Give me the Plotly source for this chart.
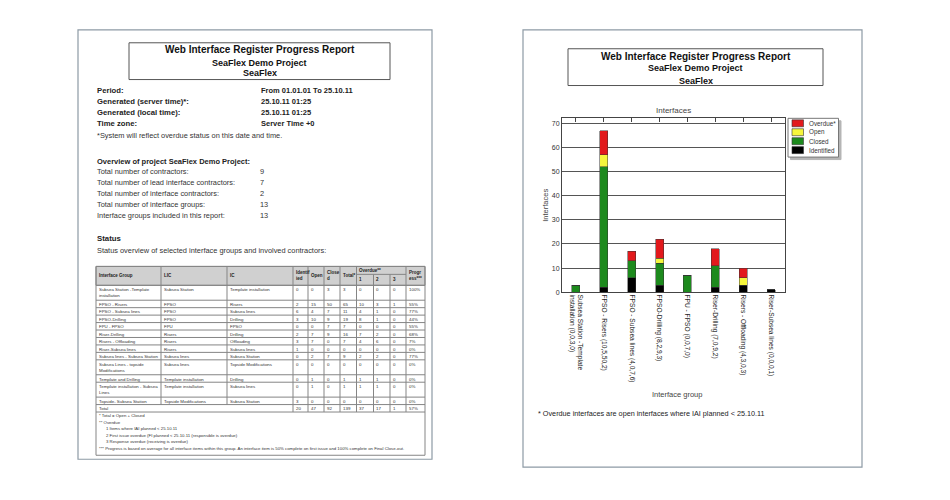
import plotly.graph_objects as go

# The page body adds an 8px margin, so the figure is drawn 8px smaller and
# all reference pixel positions are shifted by that offset.
W, H = 950, 500
OFF = 8
FW, FH = W - OFF, H - OFF
FONT = "Liberation Sans, Arial, sans-serif"


def px(x):
    return (x - OFF) / FW


def py(y):
    return 1 - (y - OFF) / FH


# ---------------- chart data (right page) ----------------
categories = [
    "Subsea Station -Template<br>installation (0,0,3,0)",
    "FPSO - Risers (10,5,50,2)",
    "FPSO - Subsea lines (4,0,7,6)",
    "FPSO-Drilling (8,2,9,3)",
    "FPU - FPSO (0,0,7,0)",
    "Riser-Drilling (7,0,9,2)",
    "Risers - Offloading (4,3,0,3)",
    "Riser-Subsea lines (0,0,0,1)",
]
identified = [0, 2, 6, 3, 0, 2, 3, 1]
closed = [3, 50, 7, 9, 7, 9, 0, 0]
open_ = [0, 5, 0, 2, 0, 0, 3, 0]
overdue = [0, 10, 4, 8, 0, 7, 4, 0]
series_names = ["Identified", "Closed", "Open", "Overdue*"]
series_colors = ["#000000", "#1d8a1d", "#f6f63c", "#e2191c"]
y_ticks = [0, 10, 20, 30, 40, 50, 60, 70]

# ---------------- table data (left page) ----------------
tbl_header = ["Interface Group", "LIC", "IC", "Identif<br>ied", "Open", "Close<br>d",
              "Total*", "1", "2", "3", "Progr<br>ess***"]
tbl_group = ["Subsea Station -Template<br>installation", "FPSO - Risers", "FPSO - Subsea lines",
             "FPSO-Drilling", "FPU - FPSO", "Riser-Drilling", "Risers - Offloading",
             "Riser-Subsea lines", "Subsea lines - Subsea Station",
             "Subsea Lines - topside<br>Modifications", "Template and Drilling",
             "Template installation - Subsea<br>Lines", "Topside- Subsea Station"]
tbl_lic = ["Subsea Station", "FPSO", "FPSO", "FPSO", "FPU", "Risers", "Risers", "Risers",
           "Subsea lines", "Subsea lines", "Template installation", "Template installation",
           "Topside Modifications"]
tbl_ic = ["Template installation", "Risers", "Subsea lines", "Drilling", "FPSO", "Drilling",
          "Offloading", "Subsea lines", "Subsea Station", "Topside Modifications", "Drilling",
          "Subsea lines", "Subsea Station"]
tbl_identified = [0, 2, 6, 3, 0, 2, 3, 1, 0, 0, 0, 0, 3]
tbl_open = [0, 15, 4, 10, 0, 7, 7, 0, 2, 0, 1, 1, 0]
tbl_closed = [3, 50, 7, 9, 7, 9, 0, 0, 7, 0, 0, 0, 0]
tbl_total = [3, 65, 11, 19, 7, 16, 7, 0, 9, 0, 1, 1, 0]
tbl_od1 = [0, 10, 4, 8, 0, 7, 4, 0, 2, 0, 1, 1, 0]
tbl_od2 = [0, 3, 1, 1, 0, 2, 6, 0, 2, 0, 1, 1, 0]
tbl_od3 = [0, 1, 0, 0, 0, 0, 0, 0, 0, 0, 0, 0, 0]
tbl_progress = ["100%", "55%", "77%", "44%", "55%", "68%", "7%", "0%", "77%", "0%", "0%", "0%", "0%"]
tbl_totals = ["20", "47", "92", "139", "37", "17", "1", "57%"]

fig = go.Figure()

# ---------------- stacked bars ----------------
for name, vals, col in zip(series_names, [identified, closed, open_, overdue], series_colors):
    fig.add_trace(go.Bar(
        x=categories, y=vals, name=name, width=0.29,
        marker=dict(color=col, line=dict(color="#333333", width=0.5)),
        showlegend=False,
    ))
# helper trace so the top tick axis is drawn
fig.add_trace(go.Scatter(x=[0, 7], y=[None, None], xaxis="x2", yaxis="y", mode="markers",
                         showlegend=False, hoverinfo="skip"))

shapes = []
annots = []


def txt(s, x, y, size, bold=False, xanchor="left", yanchor="middle", color="#222222", angle=0):
    if bold:
        s = "<b>" + s + "</b>"
    annots.append(dict(text=s, x=px(x), y=py(y), xref="paper", yref="paper", showarrow=False,
                       xanchor=xanchor, yanchor=yanchor, textangle=angle, borderpad=0,
                       align="left" if xanchor == "left" else "center",
                       font=dict(size=size, color=color, family=FONT)))


def rect(x0, y0, x1, y1, line="#555555", width=1, fill=None, layer="above"):
    d = dict(type="rect", xref="paper", yref="paper", x0=px(x0), x1=px(x1), y0=py(y1), y1=py(y0),
             line=dict(color=line, width=width), layer=layer)
    if fill:
        d["fillcolor"] = fill
    shapes.append(d)


def hline(x0, x1, y, color="#858585", width=1):
    shapes.append(dict(type="line", xref="paper", yref="paper", x0=px(x0), x1=px(x1),
                       y0=py(y), y1=py(y), line=dict(color=color, width=width)))


def vline(x, y0, y1, color="#858585", width=1):
    shapes.append(dict(type="line", xref="paper", yref="paper", x0=px(x), x1=px(x),
                       y0=py(y0), y1=py(y1), line=dict(color=color, width=width)))


# ---------------- page frames ----------------
rect(78, 30, 432, 462, line="#8d9aa5", width=1.2)
rect(523, 30, 862, 470, line="#8d9aa5", width=1.2)

# ---------------- header boxes ----------------
for (x0, x1, y0, y1, ys) in [(129, 390, 43, 80, (50, 63, 73)), (568, 823, 49, 86, (57, 68, 81))]:
    rect(x0, y0, x1, y1, line="#555555", width=1)
    cx = (x0 + x1) / 2
    txt("Web Interface Register Progress Report", cx, ys[0], 10, bold=True, xanchor="center", color="#111")
    txt("SeaFlex Demo Project", cx, ys[1], 9, bold=True, xanchor="center", color="#111")
    txt("SeaFlex", cx, ys[2], 9, bold=True, xanchor="center", color="#111")

# ---------------- left page text ----------------
info_rows = [("Period:", "From 01.01.01 To 25.10.11", 91),
             ("Generated (server time)*:", "25.10.11 01:25", 102),
             ("Generated (local time):", "25.10.11 01:25", 113),
             ("Time zone:", "Server Time +0", 124)]
for lab, val, y in info_rows:
    txt(lab, 96, y, 7.7, bold=True, color="#222")
    txt(val, 260, y, 7.5, bold=True, color="#222")
txt("*System will reflect overdue status on this date and time.", 96, 136, 7.4, color="#333")
txt("Overview of project SeaFlex Demo Project:", 96, 162, 7.5, bold=True, color="#222")
overview = [("Total number of contractors:", "9", 173),
            ("Total number of lead interface contractors:", "7", 184),
            ("Total number of interface contractors:", "2", 195),
            ("Total number of interface groups:", "13", 206),
            ("Interface groups included in this report:", "13", 217)]
for lab, val, y in overview:
    txt(lab, 96, y, 7.4, color="#333")
    txt(val, 259, y, 7.4, color="#333")
txt("Status", 96, 240, 7.8, bold=True, color="#222")
txt("Status overview of selected interface groups and involved contractors:", 96, 252, 7.4, color="#333")

# ---------------- table ----------------
col_edges = [96, 161, 227, 293, 308, 324, 340, 356.5, 373.5, 390, 406, 425]
t_top, head_h, single_h, double_h = 268, 19, 7.5, 15
rect(col_edges[0], t_top, col_edges[-1], t_top + head_h, line="#858585", fill="#d0d0d0", layer="below")
row_tops = []
y = t_top + head_h
for g in tbl_group:
    row_tops.append(y)
    y += double_h if "<br>" in g else single_h
total_top = y
total_bot = y + single_h
foot_bot = 458
# lines
rect(col_edges[0], t_top, col_edges[-1], foot_bot, line="#858585")
hline(col_edges[0], col_edges[-1], t_top + head_h)
for yt in row_tops[1:] + [total_top, total_bot]:
    hline(col_edges[0], col_edges[-1], yt)
hline(col_edges[7], col_edges[10], t_top + 8)
for i, xe in enumerate(col_edges[1:-1], start=1):
    if i in (1, 2):
        vline(xe, t_top, total_top)
    elif i in (8, 9):
        vline(xe, t_top + 8, total_bot)
    else:
        vline(xe, t_top, total_bot)
# header text
hs = 4.5
for i, h in enumerate(tbl_header):
    if i in (7, 8, 9):
        txt(h, col_edges[i] + 1.5, t_top + 13.5, hs, bold=True, color="#222")
    else:
        txt(h, col_edges[i] + 1.5, t_top + head_h / 2, hs, bold=True, color="#222")
txt("Overdue**", col_edges[7] + 1.5, t_top + 4, hs, bold=True, color="#222")
# body
ts = 4.4
for r in range(len(tbl_group)):
    vals = [tbl_group[r], tbl_lic[r], tbl_ic[r], tbl_identified[r], tbl_open[r], tbl_closed[r],
            tbl_total[r], tbl_od1[r], tbl_od2[r], tbl_od3[r], tbl_progress[r]]
    for c, v in enumerate(vals):
        txt(str(v), col_edges[c] + 1.5, row_tops[r] + 0.8, ts, yanchor="top", color="#333")
txt("Total", col_edges[0] + 1.5, total_top + 0.8, ts, yanchor="top", color="#333")
for c, v in enumerate(tbl_totals):
    txt(v, col_edges[c + 3] + 1.5, total_top + 0.8, ts, yanchor="top", color="#333")
# footnotes
foot = [("* Total = Open + Closed", 97.5, 418.5),
        ("** Overdue", 97.5, 425),
        ("1 Items where IAI planned < 25.10.11", 105, 431.5),
        ("2 First issue overdue (FI planned < 25.10.11 (responsible is overdue)", 105, 438),
        ("3 Response overdue (receiving is overdue)", 105, 444.5),
        ("*** Progress is based on average for all interface items within this group. An interface item is 50% "
         "complete on first issue and 100% complete on Final Close-out.", 97.5, 451)]
for s, x, yy in foot:
    txt(s, x, yy, 4.3, color="#333")

# ---------------- right page chart texts ----------------
txt("Interfaces", 673.5, 111, 8, xanchor="center", color="#444")
txt("Interfaces", 546, 207, 7.5, xanchor="center", color="#444", angle=-90)
txt("Interface group", 677, 397, 7.5, xanchor="center", color="#444")
txt("* Overdue interfaces are open interfaces where IAI planned < 25.10.11", 537, 416, 7.25, color="#222")

# manual legend
rect(790.5, 121.5, 841, 160.5, line="#b5b5b5", fill="#b5b5b5", layer="below")
rect(788, 119, 838.5, 158, line="#777777", width=1, fill="#ffffff")
leg_y = [124, 133, 142, 151]
for name, col, yy in zip(series_names[::-1], series_colors[::-1], leg_y):
    rect(792, yy - 3.5, 803.5, yy + 3.5, line="#333333", width=0.6, fill=col)
    txt(name, 808, yy, 6.3, color="#333")

fig.update_layout(
    width=FW, height=FH, margin=dict(l=0, r=0, t=0, b=0),
    paper_bgcolor="white", plot_bgcolor="white",
    barmode="stack", showlegend=False,
    font=dict(family=FONT, color="#222"),
    xaxis=dict(domain=[px(562), px(785)], type="category", range=[-0.5, 7.5],
               showline=True, linecolor="#444", linewidth=1, mirror=True, ticks="",
               tickangle=90, tickfont=dict(size=6.6, color="#222"), showgrid=False, fixedrange=True),
    xaxis2=dict(overlaying="x", side="top", anchor="y", range=[-0.5, 7.5],
                tickvals=list(range(len(categories))), ticks="inside", ticklen=4,
                tickcolor="#444", showticklabels=False, showgrid=False, showline=False,
                zeroline=False, fixedrange=True),
    yaxis=dict(domain=[py(294), py(119)], range=[0, 72.06], tickvals=y_ticks,
               showgrid=True, gridcolor="#555", gridwidth=1, showline=True, linecolor="#444",
               mirror=True, ticks="", tickfont=dict(size=7, color="#333"), zeroline=False,
               fixedrange=True),
    shapes=shapes, annotations=annots,
)

fig.write_html("out.html")
